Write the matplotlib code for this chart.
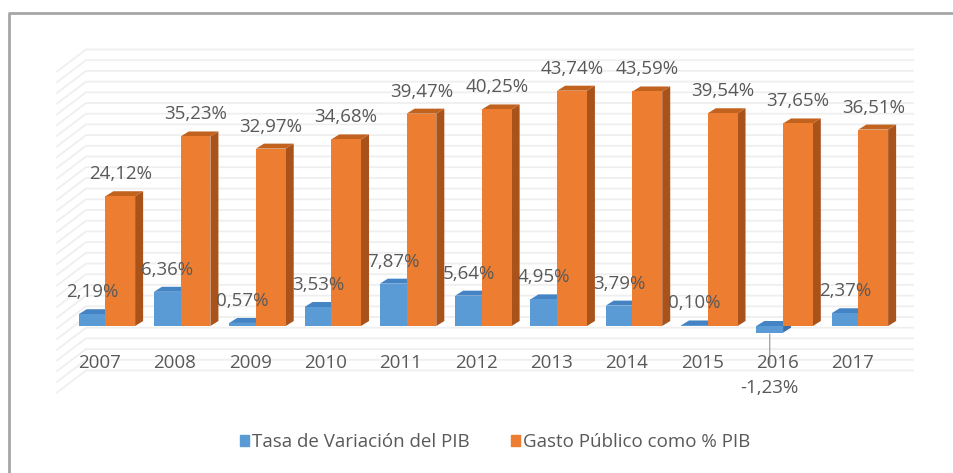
import numpy as np
import matplotlib.pyplot as plt
from matplotlib.patches import Polygon, Patch
from matplotlib.lines import Line2D

plt.rcParams['font.family'] = ['Open Sans', 'DejaVu Sans']

years = ['2007', '2008', '2009', '2010', '2011', '2012', '2013', '2014', '2015', '2016', '2017']
tasa_pib = [2.19, 6.36, 0.57, 3.53, 7.87, 5.64, 4.95, 3.79, 0.10, -1.23, 2.37]
gasto_pib = [24.12, 35.23, 32.97, 34.68, 39.47, 40.25, 43.74, 43.59, 39.54, 37.65, 36.51]
series_names = ['Tasa de Variación del PIB', 'Gasto Público como % PIB']

W, H = 954, 473
x0, step = 106.5, 75.3   # pixel of first group centre, pixels per category
y0, scale = 326, 5.38    # pixel row of the zero line, pixels per percentage point
text_col = '#595959'

fig = plt.figure(figsize=(W / 100, H / 100), dpi=100)
ax = fig.add_axes([0, 0, 1, 1])
ax.set_xlim(-x0 / step, (W - x0) / step)
ax.set_ylim(-(H - y0) / scale, y0 / scale)
ax.axis('off')


def px(x, y):
    # pixel position -> data position
    return (x - x0) / step, (y0 - y) / scale


# chart frame
fig.add_artist(Line2D([9 / W, 9 / W, 1.0], [0, 1 - 13 / H, 1 - 13 / H],
                      color='#a6a6a6', lw=2))

# back wall + side wall gridlines
for v in np.arange(-10, 51, 2):
    yb = 317 - 5.35 * v
    pts = [px(57, yb + 22), px(86, yb), px(913, yb)]
    ax.plot([p[0] for p in pts], [p[1] for p in pts], color='#efefef', lw=1.3, zorder=1)

dx = 8 / step
dy = 5 / scale


def bar3d(x_left, width, value, top, side, z):
    x_right = x_left + width
    h = max(value, 0)
    lo = min(value, 0)
    ax.add_patch(Polygon([(x_right, lo), (x_right, h), (x_right + dx, h + dy), (x_right + dx, lo + dy)],
                         closed=True, facecolor=side, edgecolor='none', zorder=z))
    ax.add_patch(Polygon([(x_left, h), (x_right, h), (x_right + dx, h + dy), (x_left + dx, h + dy)],
                         closed=True, facecolor=top, edgecolor='none', zorder=z))


x = np.arange(len(years))
blue_left = x - 0.37
blue_w = 0.355
orange_left = x - 0.015
orange_w = 0.395

for i in range(len(years)):
    bar3d(blue_left[i], blue_w, tasa_pib[i], '#4584c4', '#3a6fa8', 2)
ax.bar(blue_left, tasa_pib, width=blue_w, align='edge', color='#5b9bd5', zorder=3)
for i in range(len(years)):
    bar3d(orange_left[i], orange_w, gasto_pib[i], '#c2621f', '#a9521a', 4)
ax.bar(orange_left, gasto_pib, width=orange_w, align='edge', color='#ed7d31', zorder=5)


def fmt(v):
    return f'{v:.2f}'.replace('.', ',') + '%'


fs = 13.5
off = 22 * 0.72
for i in range(len(years)):
    ax.annotate(fmt(gasto_pib[i]), (orange_left[i] + orange_w / 2, gasto_pib[i]),
                xytext=(0, off), textcoords='offset points', ha='center', va='center',
                fontsize=fs, color=text_col, zorder=6)
    v = tasa_pib[i]
    if v >= 0:
        ax.annotate(fmt(v), (blue_left[i] + blue_w / 2, v),
                    xytext=(0, off), textcoords='offset points', ha='center', va='center',
                    fontsize=fs, color=text_col, zorder=6)
    else:
        ax.annotate(fmt(v), (blue_left[i] + blue_w / 2, v),
                    xytext=(0, -55 * 0.72), textcoords='offset points', ha='center', va='center',
                    fontsize=fs, color=text_col, zorder=6,
                    arrowprops=dict(arrowstyle='-', color='#a6a6a6', lw=1,
                                    shrinkA=9, shrinkB=1))
    ax.annotate(years[i], (x[i] - 0.09, 0), xytext=(0, -37 * 0.72),
                textcoords='offset points', ha='center', va='center',
                fontsize=fs, color=text_col, zorder=6)

handles = [Patch(color='#5b9bd5'), Patch(color='#ed7d31')]
fig.legend(handles, series_names, loc='center', bbox_to_anchor=(495 / W, 1 - 442 / H),
           ncol=2, frameon=False, fontsize=fs, labelcolor=text_col,
           handlelength=0.5, handleheight=0.5, handletextpad=0.15, columnspacing=2.2)

fig.savefig('out.png', dpi=100)
